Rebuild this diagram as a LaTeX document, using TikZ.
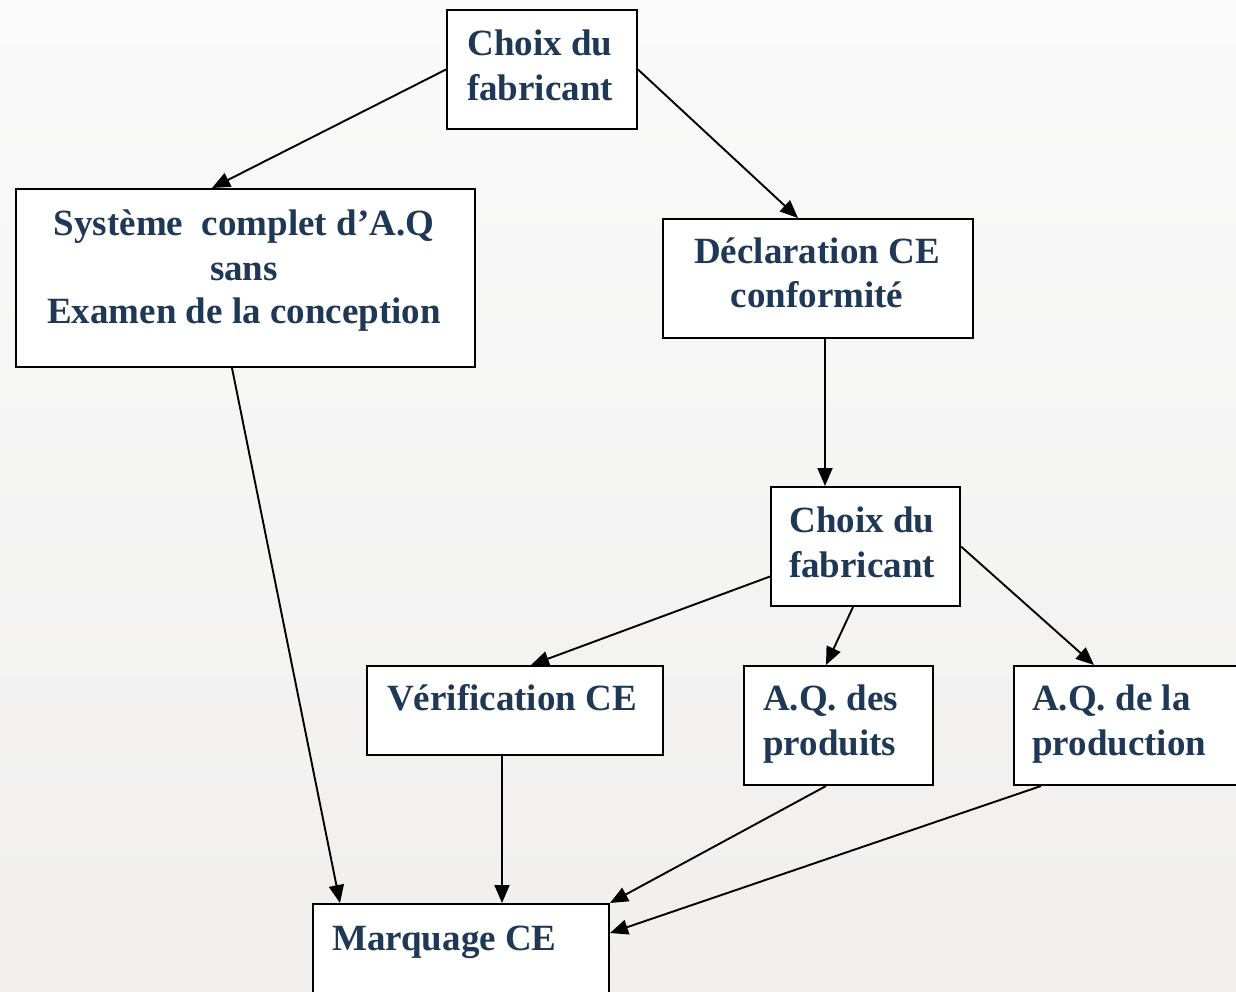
\documentclass[tikz,border=0pt]{standalone}
\usepackage{fontspec}
\setmainfont{Liberation Serif}
\usetikzlibrary{arrows.meta,calc}
\definecolor{txt}{RGB}{30,56,86}
\definecolor{bgtop}{RGB}{250,250,250}
\definecolor{bgbot}{RGB}{240,239,238}
\tikzset{
  box/.style={draw=black,line width=2pt,fill=white,inner sep=0pt,anchor=north west},
  lbl/.style={text=txt,font=\bfseries\fontsize{37}{44}\selectfont,inner sep=0pt},
  arr/.style={line width=1.9pt,-{Triangle[length=18pt,width=15pt]}}
}
\begin{document}
\begin{tikzpicture}[x=1pt,y=-1pt]
\useasboundingbox (0,0) rectangle (1236,991);
\shade[top color=bgtop,bottom color=bgbot] (0,0) rectangle (1236,991);
% boxes
\node[box,minimum width=190pt,minimum height=119pt] (c1) at (446,9) {};
\node[box,minimum width=459pt,minimum height=178pt] (sys) at (15,188) {};
\node[box,minimum width=310pt,minimum height=119pt] (dec) at (662,218) {};
\node[box,minimum width=189pt,minimum height=119pt] (c2) at (770,486) {};
\node[box,minimum width=296pt,minimum height=89pt] (ver) at (366,665) {};
\node[box,minimum width=189pt,minimum height=119pt] (aqp) at (743,665) {};
\node[box,minimum width=240pt,minimum height=119pt] (aqd) at (1013,665) {};
\node[box,minimum width=296pt,minimum height=110pt] (mar) at (312,903) {};
% texts
\node[lbl,anchor=base] at (540,55) {Choix du};
\node[lbl,anchor=base] at (540,100) {fabricant};
\node[lbl,anchor=base] at (244,235) {Système\ \ complet d’A.Q};
\node[lbl,anchor=base] at (244,280) {sans};
\node[lbl,anchor=base] at (244,323) {Examen de la conception};
\node[lbl,anchor=base] at (817,263) {Déclaration CE};
\node[lbl,anchor=base] at (817,307) {conformité};
\node[lbl,anchor=base] at (862,532) {Choix du};
\node[lbl,anchor=base] at (862,577) {fabricant};
\node[lbl,anchor=base west] at (387,710) {Vérification CE};
\node[lbl,anchor=base west] at (763,710) {A.Q. des};
\node[lbl,anchor=base west] at (763,755) {produits};
\node[lbl,anchor=base west] at (1032,710) {A.Q. de la};
\node[lbl,anchor=base west] at (1032,755) {production};
\node[lbl,anchor=base west] at (332,950) {Marquage CE};
% connectors
\draw[arr] (c1.west) -- ([xshift=-33.5pt]sys.north);
\draw[arr] (c1.east) -- ([xshift=-20pt]dec.north);
\draw[arr] ([xshift=7pt]dec.south) -- ([xshift=-40.5pt]c2.north);
\draw[arr] ([yshift=-30pt]c2.west) -- ([xshift=16pt]ver.north);
\draw[arr] ([xshift=-12.5pt]c2.south) -- ([xshift=-12.5pt]aqp.north);
\draw[arr] (c2.east) -- ([xshift=-40pt]aqd.north);
\draw[arr] ([xshift=-13.5pt]sys.south) -- ([xshift=28pt]mar.north west);
\draw[arr] ([xshift=-13pt]ver.south) -- ([xshift=-13pt]ver.south |- mar.north);
\draw[arr] ([xshift=-12.5pt]aqp.south) -- (mar.north east);
\draw[arr] ([xshift=-93pt]aqd.south) -- ([yshift=-30pt]mar.north east);
\end{tikzpicture}
\end{document}
